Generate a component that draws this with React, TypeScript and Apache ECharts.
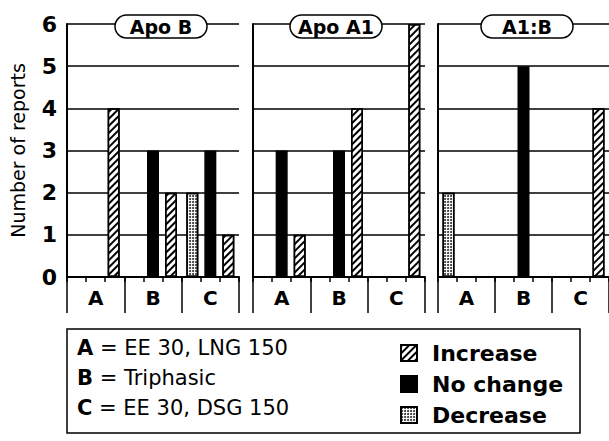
import React, { useEffect, useRef } from "react";
import * as echarts from "echarts";

const categories = ["A", "B", "C"];
const panelTitles = ["Apo B", "Apo A1", "A1:B"];
const seriesNames = ["Decrease", "No change", "Increase"];
const legendOrder = ["Increase", "No change", "Decrease"];
// values per panel, per category A, B, C
const increase = [
  [4, 2, 1],
  [1, 4, 6],
  [0, 0, 4],
];
const noChange = [
  [0, 3, 3],
  [3, 3, 0],
  [0, 5, 0],
];
const decrease = [
  [0, 0, 2],
  [0, 0, 0],
  [2, 0, 0],
];
const yMin = 0;
const yMax = 6;
const yInterval = 1;
const subSlots = ["", "", "", "", "", "", "", "", ""];
const keyLines = [
  { letter: "A", text: " = EE 30, LNG 150" },
  { letter: "B", text: " = Triphasic" },
  { letter: "C", text: " = EE 30, DSG 150" },
];
const yAxisName = "Number of reports";

const FONT = "DejaVu Sans";

const gridBoxes = [
  { left: 67, width: 172 },
  { left: 253, width: 172 },
  { left: 438, width: 180 },
];
const titleCenters = [161, 336, 527];

const styles: Record<string, any> = {
  Increase: {
    color: "#fff",
    borderColor: "#000",
    borderWidth: 1.5,
    decal: {
      symbol: "rect",
      symbolSize: 1,
      color: "#000",
      dashArrayX: [1, 0],
      dashArrayY: [1.6, 2.4],
      rotation: -Math.PI / 4,
    },
  },
  "No change": {
    color: "#000",
    borderColor: "#000",
    borderWidth: 1.5,
  },
  Decrease: {
    color: "#fff",
    borderColor: "#000",
    borderWidth: 1.5,
    decal: {
      symbol: "circle",
      symbolSize: 1,
      color: "#333",
      dashArrayX: [2, 1],
      dashArrayY: [2, 1],
      rotation: 0,
    },
  },
};

export default function App() {
  const ref = useRef<HTMLDivElement>(null);
  useEffect(() => {
    if (!ref.current) return;
    document.body.style.margin = "0";
    const chart = echarts.init(ref.current, null, { renderer: "svg" });
    const valuesFor: Record<string, number[][]> = {
      Increase: increase,
      "No change": noChange,
      Decrease: decrease,
    };

    const grids = gridBoxes.map((g) => ({
      left: g.left,
      width: g.width,
      top: 24,
      height: 253,
      containLabel: false,
    }));

    const xAxes: any[] = [];
    gridBoxes.forEach((_, i) => {
      xAxes.push({
        type: "category",
        gridIndex: i,
        data: categories,
        boundaryGap: true,
        axisLine: { show: true, lineStyle: { color: "#000", width: 2 } },
        axisTick: {
          show: true,
          interval: 0,
          length: 36,
          lineStyle: { color: "#000", width: 1.5 },
        },
        axisLabel: {
          show: true,
          interval: 0,
          margin: 11,
          color: "#000",
          fontFamily: FONT,
          fontWeight: "bold",
          fontSize: 20,
        },
        splitLine: { show: false },
      });
    });
    gridBoxes.forEach((_, i) => {
      xAxes.push({
        type: "category",
        gridIndex: i,
        data: subSlots,
        boundaryGap: true,
        position: "bottom",
        axisLine: { show: false },
        axisTick: {
          show: true,
          interval: 0,
          length: 5,
          lineStyle: { color: "#000", width: 1.5 },
        },
        axisLabel: { show: false },
        splitLine: { show: false },
      });
    });

    const yAxes = gridBoxes.map((_, i) => ({
      type: "value",
      gridIndex: i,
      min: yMin,
      max: yMax,
      interval: yInterval,
      name: i === 0 ? yAxisName : "",
      nameLocation: "middle",
      nameRotate: 90,
      nameGap: 40,
      nameTextStyle: { color: "#000", fontFamily: FONT, fontSize: 19 },
      axisLine: { show: true, lineStyle: { color: "#000", width: 2 } },
      axisTick: { show: false },
      axisLabel: {
        show: i === 0,
        margin: 10,
        color: "#000",
        fontFamily: FONT,
        fontWeight: "bold",
        fontSize: 22,
      },
      splitLine: { show: true, lineStyle: { color: "#000", width: 1.5 } },
    }));

    const series: any[] = [];
    gridBoxes.forEach((_, i) => {
      seriesNames.forEach((name) => {
        series.push({
          type: "bar",
          name,
          xAxisIndex: i,
          yAxisIndex: i,
          data: valuesFor[name][i],
          barWidth: 12,
          barGap: "50%",
          itemStyle: styles[name],
          emphasis: { disabled: true },
        });
      });
    });

    const graphics: any[] = [];
    panelTitles.forEach((t, i) => {
      const cx = titleCenters[i];
      graphics.push({
        type: "rect",
        shape: { x: cx - 46, y: 15, width: 92, height: 23, r: 11.5 },
        style: { fill: "#fff", stroke: "#000", lineWidth: 1.5 },
        z: 100,
      });
      graphics.push({
        type: "text",
        x: cx,
        y: 27,
        style: {
          text: t,
          fontFamily: FONT,
          fontWeight: "bold",
          fontSize: 19,
          fill: "#000",
          textAlign: "center",
          textVerticalAlign: "middle",
        },
        z: 101,
      });
    });
    graphics.push({
      type: "rect",
      shape: { x: 67, y: 329, width: 513, height: 104 },
      style: { fill: "none", stroke: "#000", lineWidth: 1.5 },
      z: 100,
    });
    keyLines.forEach((k, i) => {
      graphics.push({
        type: "text",
        x: 77,
        y: 348 + i * 30,
        style: {
          text: "{b|" + k.letter + "}" + k.text,
          rich: {
            b: { fontWeight: "bold", fontSize: 21, fontFamily: FONT, fill: "#000" },
          },
          fontFamily: FONT,
          fontSize: 21,
          fill: "#000",
          textAlign: "left",
          textVerticalAlign: "middle",
        },
        z: 101,
      });
    });

    chart.setOption({
      animation: false,
      backgroundColor: "#fff",
      grid: grids,
      xAxis: xAxes,
      yAxis: yAxes,
      series,
      legend: {
        data: legendOrder,
        orient: "vertical",
        left: 395,
        top: 337,
        itemWidth: 16,
        itemHeight: 16,
        itemGap: 9,
        icon: "rect",
        selectedMode: false,
        textStyle: {
          color: "#000",
          fontFamily: FONT,
          fontWeight: "bold",
          fontSize: 22,
          lineHeight: 21,
          padding: [0, 0, 0, 10],
        },
      },
      graphic: graphics,
    });
    return () => chart.dispose();
  }, []);
  return <div ref={ref} style={{ width: 609, height: 441 }} />;
}
